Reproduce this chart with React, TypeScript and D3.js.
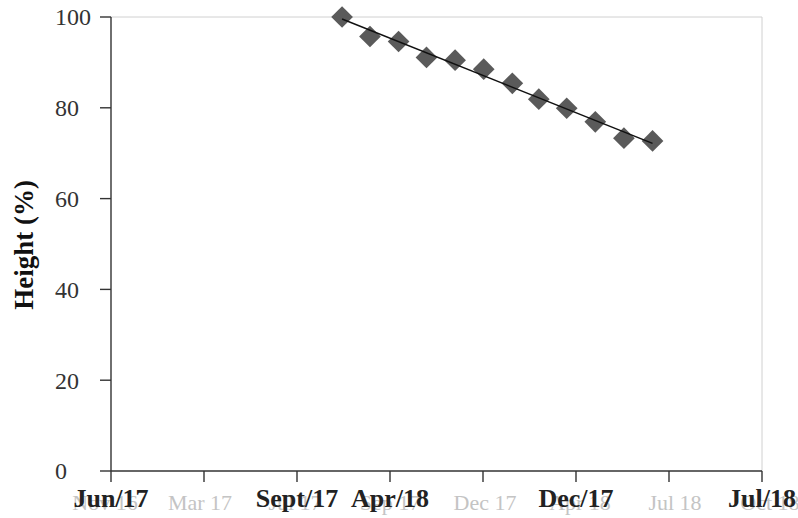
import React from "react";
import * as d3 from "d3";

// Sample timing in weeks from the first axis tick, and measured heights (%)
const sampleWeeks = [32.3, 36.2, 40.2, 44.1, 48.1, 52.1, 56.1, 59.8, 63.7, 67.7, 71.7, 75.7];
const heightPct = [100, 95.7, 94.6, 91.1, 90.5, 88.5, 85.4, 81.9, 79.9, 76.9, 73.3, 72.7];

// Axis ticks
const xTickWeeks = [0, 13, 26, 39, 52, 65, 78, 91];
const xTickLabels = ["Jun/17", "", "Sept/17", "Apr/18", "", "Dec/17", "", "Jul/18"];
const yTicks = [0, 20, 40, 60, 80, 100];

// Faint secondary date labels running under the axis
const backLabels = ["Nov 16", "Mar 17", "Jul 17", "Sep 17", "Dec 17", "Apr 18", "Jul 18", "Oct 18"];

const W = 798;
const H = 518;
const left = 111;
const right = 762;
const top = 17;
const bottom = 471;
const FONT = "'Liberation Serif', 'Times New Roman', serif";

export default function App() {
  const x = d3.scaleLinear().domain([0, 91]).range([left, right]);
  const y = d3.scaleLinear().domain([0, 100]).range([bottom, top]);
  const back = d3.scalePoint<string>().domain(backLabels).range([105, 770]);

  // Least-squares trend through the samples
  const pts: [number, number][] = sampleWeeks.map((w, i) => [w, heightPct[i]]);
  const mx = d3.mean(sampleWeeks) as number;
  const my = d3.mean(heightPct) as number;
  const sxy = d3.sum(pts, ([a, b]) => (a - mx) * (b - my));
  const sxx = d3.sum(pts, ([a]) => (a - mx) * (a - mx));
  const slope = sxy / sxx;
  const icpt = my - slope * mx;
  const x0 = sampleWeeks[0];
  const x1 = sampleWeeks[sampleWeeks.length - 1];
  const trend = d3.line<[number, number]>()
    .x((d) => x(d[0]))
    .y((d) => y(d[1]))([
      [x0, icpt + slope * x0],
      [x1, icpt + slope * x1],
    ]);

  const diamond = d3.symbol().type(d3.symbolDiamond2).size(300)();
  const axisColor = "#333";
  const tickLen = 11;

  return (
    <svg
      width={W}
      height={H}
      style={{ position: "absolute", left: 0, top: 0, background: "#fff" }}
      fontFamily={FONT}
    >
      {/* faint background date labels */}
      {backLabels.map((t) => (
        <text
          key={t}
          x={back(t)}
          y={510}
          textAnchor="middle"
          fontSize={22}
          fill="#c4c4c4"
        >
          {t}
        </text>
      ))}

      {/* plot frame */}
      <line x1={left} x2={right} y1={top} y2={top} stroke="#d0d0d0" strokeWidth={1} />
      <line x1={right} x2={right} y1={top} y2={bottom} stroke="#d0d0d0" strokeWidth={1} />

      {/* y axis */}
      <line x1={left} x2={left} y1={top} y2={bottom} stroke={axisColor} strokeWidth={1.4} />
      {yTicks.map((v) => (
        <g key={v}>
          <line x1={left - tickLen} x2={left} y1={y(v)} y2={y(v)} stroke={axisColor} strokeWidth={1.4} />
          <text x={55} y={y(v)} dy="0.35em" fontSize={24} fill="#333">
            {v}
          </text>
        </g>
      ))}

      {/* x axis */}
      <line x1={left} x2={right} y1={bottom} y2={bottom} stroke={axisColor} strokeWidth={1.4} />
      {xTickWeeks.map((w, i) => (
        <g key={w}>
          <line x1={x(w)} x2={x(w)} y1={bottom} y2={bottom + tickLen} stroke={axisColor} strokeWidth={1.4} />
          {xTickLabels[i] && (
            <text
              x={x(w)}
              y={507}
              textAnchor="middle"
              fontSize={26}
              fontWeight="bold"
              fill="#222"
            >
              {xTickLabels[i]}
            </text>
          )}
        </g>
      ))}

      {/* y axis title */}
      <text
        transform={`translate(33, 245) rotate(-90)`}
        textAnchor="middle"
        fontSize={27}
        fontWeight="bold"
        fill="#111"
      >
        Height (%)
      </text>

      {/* samples */}
      {pts.map(([w, h], i) => (
        <path key={i} d={diamond as string} transform={`translate(${x(w)},${y(h)})`} fill="#5a5a5a" />
      ))}

      {/* trend line */}
      <path d={trend as string} fill="none" stroke="#111" strokeWidth={1.5} />
    </svg>
  );
}
